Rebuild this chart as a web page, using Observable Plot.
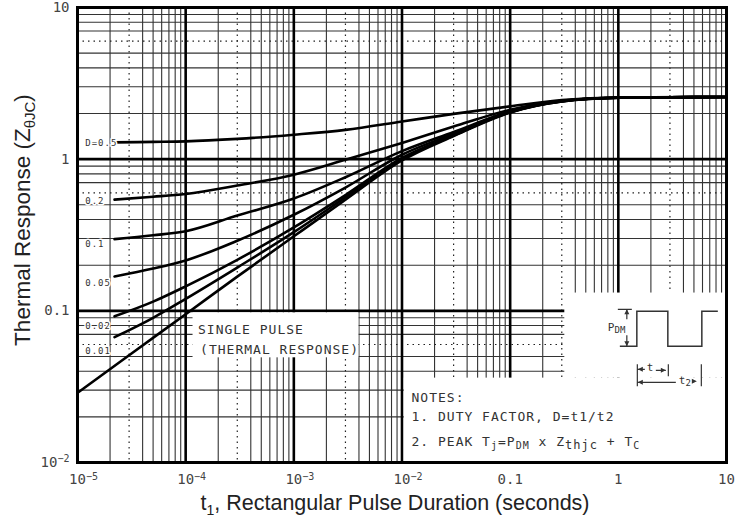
<!DOCTYPE html>
<html><head><meta charset="utf-8">
<script src="https://cdn.jsdelivr.net/npm/d3@7"></script>
<script src="https://cdn.jsdelivr.net/npm/@observablehq/plot@0.6"></script>
<style>body{margin:0;background:#fff} svg{display:block}</style>
</head><body><div id="chart"></div>
<script>
// ---- data ----
const tDuty   = [2.2e-5, 5e-5, 1e-4, 3e-4, 1e-3, 3e-3, 1e-2, 3e-2, 0.1, 0.3, 1, 10];
const tSingle = [1e-5, 3e-5, 1e-4, 3e-4, 1e-3, 3e-3, 1e-2, 3e-2, 0.1, 0.3, 1, 10];
const zD50 = [1.29, 1.30, 1.31, 1.36, 1.45, 1.56, 1.77, 1.99, 2.23, 2.45, 2.55, 2.57];
const zD20 = [0.541, 0.565, 0.59, 0.67, 0.79, 0.99, 1.28, 1.64, 2.12, 2.43, 2.54, 2.57];
const zD10 = [0.297, 0.315, 0.335, 0.425, 0.55, 0.76, 1.13, 1.51, 2.07, 2.42, 2.54, 2.57];
const zD05 = [0.1685, 0.19, 0.215, 0.29, 0.43, 0.65, 1.07, 1.47, 2.05, 2.41, 2.54, 2.57];
const zD02 = [0.092, 0.115, 0.145, 0.217, 0.355, 0.58, 1.02, 1.44, 2.04, 2.41, 2.54, 2.57];
const zD01 = [0.067, 0.09, 0.12, 0.193, 0.33, 0.56, 1.0, 1.43, 2.04, 2.40, 2.54, 2.57];
const zSingle = [0.0288, 0.051, 0.095, 0.168, 0.31, 0.54, 0.98, 1.42, 2.03, 2.40, 2.54, 2.57];
const dutyNames  = ["D=0.5", "0.2", "0.1", "0.05", "0.02", "0.01"];
const dutyLabelZ = [1.27, 0.53, 0.275, 0.153, 0.079, 0.054];
const xTicks = [1e-5, 1e-4, 1e-3, 1e-2, 0.1, 1, 10];
const xTickLabels = ["10⁻⁵", "10⁻⁴", "10⁻³", "10⁻²", "0.1", "1", "10"];
const yTicks = [0.01, 0.1, 1, 10];
const yTickLabels = ["10⁻²", "0.1", "1", "10"];

// ---- tables built from the arrays ----
const zByDuty = [zD50, zD20, zD10, zD05, zD02, zD01];
const rows = dutyNames.flatMap((name, i) => tDuty.map((t, j) => ({curve: name, t, z: zByDuty[i][j]})))
  .concat(tSingle.map((t, j) => ({curve: "single", t, z: zSingle[j]})));
const labelRows = dutyNames.map((name, i) => ({name, z: dutyLabelZ[i]}));

// log-paper grid
const minorX = [], minorXdot = [], minorY = [], minorYdot = [];
for (let e = -5; e <= 0; e++) for (let n = 2; n <= 9; n++) (n === 3 ? minorXdot : minorX).push(n * Math.pow(10, e));
for (let e = -2; e <= 0; e++) for (let n = 2; n <= 9; n++) (n === 6 ? minorYdot : minorY).push(n * Math.pow(10, e));
const majorX = [1e-4, 1e-3, 1e-2, 0.1, 1];
const majorY = [0.1, 1];

// white panels behind annotations (data units)
const panels = [
  {x1: 1.05e-2, x2: 10, y1: 0.01, y2: 0.036},
  {x1: 0.32, x2: 10, y1: 0.036, y2: 0.131},
  {x1: 1.17e-4, x2: 4.0e-3, y1: 0.049, y2: 0.097}
];

const mono = "DejaVu Sans Mono";
const xFmt = new Map(xTicks.map((v, i) => [v, xTickLabels[i]]));
const yFmt = new Map(yTicks.map((v, i) => [v, yTickLabels[i]]));

const plot = Plot.plot({
  width: 737, height: 521,
  marginLeft: 77, marginRight: 11, marginTop: 7, marginBottom: 59,
  style: {fontFamily: mono, fontSize: "14px", color: "#444", background: "white"},
  x: {type: "log", domain: [1e-5, 10], ticks: xTicks, tickFormat: d => xFmt.get(d), tickSize: 0, tickPadding: 12, label: null},
  y: {type: "log", domain: [0.01, 10], ticks: yTicks, tickFormat: d => yFmt.get(d), tickSize: 0, tickPadding: 8, label: null},
  marks: [
    Plot.ruleX(minorX, {stroke: "#333", strokeWidth: 1.1}),
    Plot.ruleX(minorXdot, {stroke: "#222", strokeWidth: 1.2, strokeDasharray: "1.5,4"}),
    Plot.ruleY(minorY, {stroke: "#333", strokeWidth: 1.1}),
    Plot.ruleY(minorYdot, {stroke: "#222", strokeWidth: 1.2, strokeDasharray: "1.5,4"}),
    Plot.ruleX(majorX, {stroke: "black", strokeWidth: 2.6}),
    Plot.ruleY(majorY, {stroke: "black", strokeWidth: 2.6}),
    Plot.rect(panels, {x1: "x1", x2: "x2", y1: "y1", y2: "y2", fill: "white"}),
    Plot.line(rows, {x: "t", y: "z", z: "curve", stroke: "black", strokeWidth: 2.6, curve: "monotone-x"}),
    Plot.text(labelRows, {x: 1.18e-5, y: "z", text: "name", textAnchor: "start", fontSize: 9,
      fontFamily: mono, fill: "#333", stroke: "white", strokeWidth: 3, paintOrder: "stroke"}),
    Plot.text(["SINGLE PULSE"], {x: 1.30e-4, y: 0.075, text: d => d, textAnchor: "start", fontSize: 13, fontFamily: mono, fill: "#333"}),
    Plot.text(["(THERMAL RESPONSE)"], {x: 1.36e-4, y: 0.0553, text: d => d, textAnchor: "start", fontSize: 13, fontFamily: mono, fill: "#333"}),
    Plot.frame({stroke: "black", strokeWidth: 3})
  ]
});

document.getElementById("chart").appendChild(plot);

// ---- rich-text annotations and pulse sketch, placed via the plot's scales ----
const sx = plot.scale("x"), sy = plot.scale("y");
const svg = d3.select(plot);
svg.selectAll("g[aria-label='text'] text").style("letter-spacing", "1px");

// power-of-ten tick labels: larger superscripts
const supMap = {"⁻": "−", "²": "2", "³": "3", "⁴": "4", "⁵": "5"};
svg.selectAll("text").each(function () {
  const s = this.textContent;
  if (this.children.length === 0 && /^10⁻[²³⁴⁵]$/.test(s)) {
    const el = d3.select(this);
    const isX = this.closest("[aria-label^='x-axis']") !== null;
    el.text(null);
    el.append("tspan").text("10");
    el.append("tspan").attr("font-size", 10).attr("dy", "-0.45em").text([...s.slice(2)].map(c => supMap[c]).join(""));
    if (isX) el.attr("dx", 6);
  }
});

const g = svg.append("g").attr("font-family", mono).attr("fill", "#333").attr("text-anchor", "start");

// notes
const nx = sx.apply(1e-2) + 10, ny = sy.apply(0.01);
const notes = g.append("g").attr("font-size", 13).style("letter-spacing", "1px");
notes.append("text").attr("x", nx).attr("y", ny - 60).text("NOTES:");
notes.append("text").attr("x", nx).attr("y", ny - 41).text("1. DUTY FACTOR, D=t1/t2");
const n2 = notes.append("text").attr("x", nx).attr("y", ny - 16);
n2.append("tspan").text("2. PEAK T");
n2.append("tspan").attr("font-size", 10).attr("dy", 3).text("j");
n2.append("tspan").attr("dy", -3).text("=P");
n2.append("tspan").attr("font-size", 10).attr("dy", 3).text("DM");
n2.append("tspan").attr("dy", -3).text(" x Z");
n2.append("tspan").attr("font-size", 12).attr("dy", 3).text("thjc");
n2.append("tspan").attr("dy", -3).text(" + T");
n2.append("tspan").attr("font-size", 10).attr("dy", 3).text("C");

// pulse diagram
const ax = sx.apply(1), ay = sy.apply(0.1);
const pg = g.append("g").attr("transform", `translate(${ax},${ay})`);
const ln = d3.line();
pg.append("path").attr("d", ln([[2,36],[19,36],[19,1],[50,1],[50,36],[84,36],[84,1],[100,1]]))
  .attr("fill", "none").attr("stroke", "#333").attr("stroke-width", 1.5);
// P_DM arrow
pg.append("path").attr("d", "M0,-1H14 M9,-1V9 M9,25V36").attr("stroke", "#333").attr("stroke-width", 1.2).attr("fill", "none");
pg.append("path").attr("d", "M9,-1l-2.5,5h5z M9,36l-2.5,-5h5z").attr("fill", "#333");
const pt = pg.append("text").attr("x", -10).attr("y", 21).attr("font-size", 11);
pt.append("tspan").text("P");
pt.append("tspan").attr("font-size", 9).attr("dy", 2).text("DM");
// t1 / t2 brackets
pg.append("path").attr("d", "M19.5,54V76 M50.5,54V66 M83.5,54V76 M20,59H27 M38,60H48 M20,72H58")
  .attr("stroke", "#333").attr("stroke-width", 1.2).attr("fill", "none");
pg.append("path").attr("d", "M20,59l5,-2.5v5z M48,60l-5,-2.5v5z M20,72l5,-2.5v5z M79,71l-5,-2.5v5z").attr("fill", "#333");
pg.append("text").attr("x", 29).attr("y", 61).attr("font-size", 11).text("t");
const t2 = pg.append("text").attr("x", 61).attr("y", 74).attr("font-size", 11);
t2.append("tspan").text("t");
t2.append("tspan").attr("font-size", 9).attr("dy", 2).text("2");

// axis titles
const titles = svg.append("g").attr("font-family", "Liberation Sans, Arial, sans-serif").attr("fill", "#222");
const xt = titles.append("text").attr("x", 395).attr("y", 510).attr("text-anchor", "middle").attr("font-size", 21.5);
xt.append("tspan").text("t");
xt.append("tspan").attr("font-size", 14).attr("dy", 5).text("1");
xt.append("tspan").attr("dy", -5).text(", Rectangular Pulse Duration (seconds)");
const yt = titles.append("text").attr("transform", "translate(30,220) rotate(-90)").attr("text-anchor", "middle").attr("font-size", 22.5);
yt.append("tspan").text("Thermal Response (Z");
yt.append("tspan").attr("font-size", 15).attr("dy", 5).text("θJC");
yt.append("tspan").attr("dy", -5).text(")");
</script>
</body></html>
